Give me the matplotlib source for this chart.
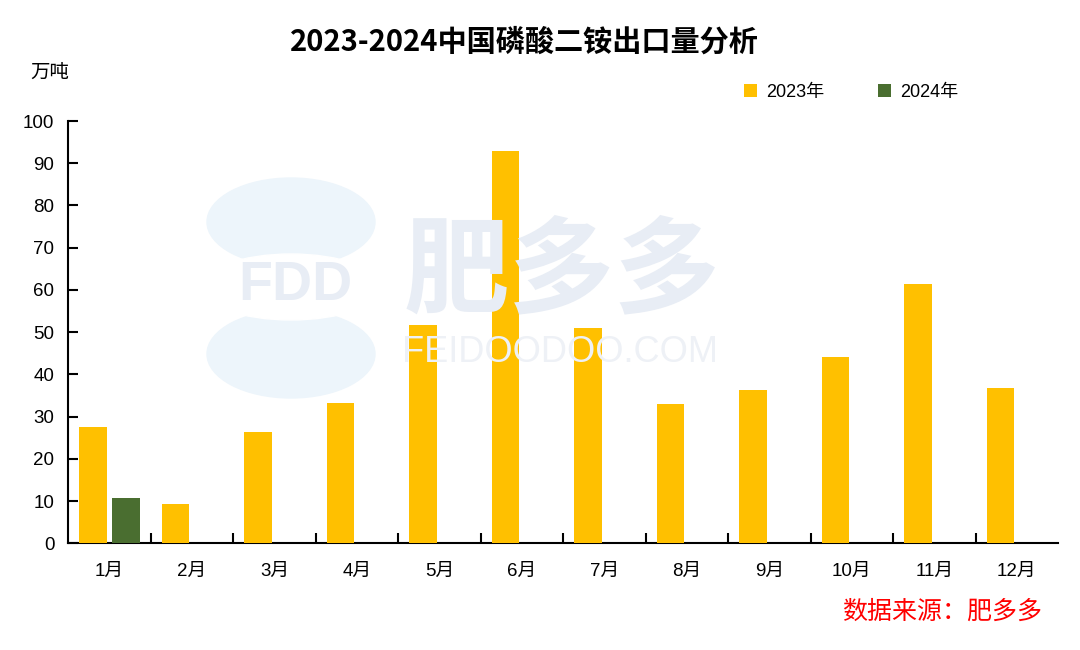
import matplotlib
matplotlib.use("Agg")
import matplotlib.pyplot as plt
import numpy as np
from matplotlib.patches import Ellipse

plt.rcParams['font.family'] = ['Liberation Sans', 'Noto Sans CJK SC', 'DejaVu Sans']

months = ['1月', '2月', '3月', '4月', '5月', '6月', '7月', '8月', '9月', '10月', '11月', '12月']
vals_2023 = [27.5, 9.4, 26.3, 33.2, 51.7, 92.8, 51.0, 32.9, 36.2, 44.1, 61.5, 36.7]
vals_2024 = [10.7]
series_names = ['2023年', '2024年']
yticks = [0, 10, 20, 30, 40, 50, 60, 70, 80, 90, 100]

c2023 = '#FFC000'
c2024 = '#4A6E30'

fig = plt.figure(figsize=(10.8, 6.5), dpi=100)
ax = fig.add_axes([68.3/1080, 1-543.3/650, (1058-68.3)/1080, (543.3-121)/650])

x = np.arange(len(months))
w = 0.333
ax.bar(x - 0.2, vals_2023, width=w, color=c2023, zorder=3, label=series_names[0])
ax.bar(x[:len(vals_2024)] + 0.2, vals_2024, width=w, color=c2024, zorder=3, label=series_names[1])

ax.set_xlim(-0.5, len(months) - 0.5)
ax.set_ylim(0, 100)
ax.set_yticks(yticks)
ax.set_yticklabels([str(t) for t in yticks], fontsize=13.5)
ax.set_xticks(x)
ax.set_xticklabels(months, fontsize=13.5, family=['Liberation Sans', 'Noto Sans CJK SC'])
ax.tick_params(axis='x', length=0, pad=14)
ax.tick_params(axis='y', direction='in', length=7, width=1.5, pad=10)
ax.set_xticks(np.arange(0.5, len(months) - 0.5, 1), minor=True)
ax.tick_params(axis='x', which='minor', direction='in', length=7, width=1.5)

for s in ['top', 'right']:
    ax.spines[s].set_visible(False)
for s in ['left', 'bottom']:
    ax.spines[s].set_linewidth(1.5)

# watermark
leaf = '#EDF5FB'
wm = '#E8EDF5'
fig.patches.append(Ellipse((291/1080, 1-222/650), 168/1080, 88/650, transform=fig.transFigure,
                           color=leaf, zorder=0))
fig.patches.append(Ellipse((291/1080, 1-354/650), 168/1080, 88/650, transform=fig.transFigure,
                           color=leaf, zorder=0))
fig.patches.append(Ellipse((291/1080, 1-287/650), 180/1080, 66/650, transform=fig.transFigure,
                           color='white', zorder=0))
fig.text(295/1080, 1-286/650, 'FDD', fontsize=40, fontweight='bold', color=wm,
         ha='center', va='center', zorder=0)
fig.text(562/1080, 1-273/650, '肥多多', fontsize=76, fontweight='bold', color=wm, ha='center',
         va='center', family='Noto Sans CJK SC', zorder=0)
fig.text(560/1080, 1-352/650, 'FEIDOODOO.COM', fontsize=26, color='#EEF1F6', ha='center', va='center',
         zorder=0)
ax.set_facecolor('none')

# title
fig.text(524/1080, 1-42/650, '2023-2024中国磷酸二铵出口量分析', fontsize=21, fontweight='bold',
         ha='center', va='center', family=['Noto Sans CJK SC'])
fig.text(50/1080, 1-72/650, '万吨', fontsize=14, ha='center', va='center', family=['Noto Sans CJK SC'])

# legend
leg = fig.legend(loc='center', bbox_to_anchor=(851/1080, 1-92/650), ncol=2, frameon=False,
                 handlelength=0.7, handleheight=0.7, columnspacing=3.0,
                 handletextpad=0.5, prop={'family': ['Liberation Sans', 'Noto Sans CJK SC'], 'size': 13})

fig.text(942/1080, 1-612/650, '数据来源：肥多多', fontsize=18, color='#FF0000', style='italic',
         ha='center', va='center', family=['Noto Sans CJK SC'])

fig.savefig('out.png', dpi=100)
